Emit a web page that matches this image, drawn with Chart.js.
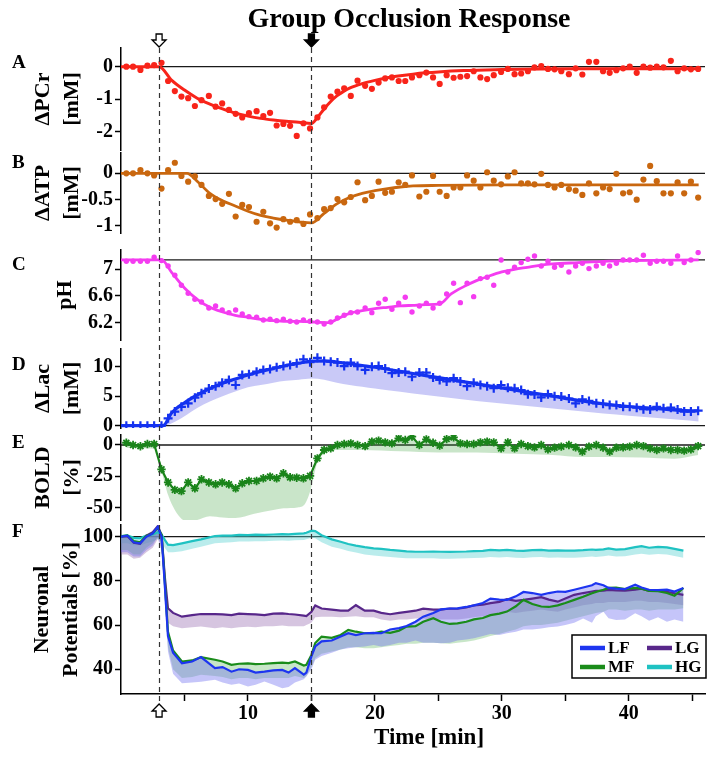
<!DOCTYPE html>
<html>
<head>
<meta charset="utf-8">
<script src="https://cdn.jsdelivr.net/npm/chart.js@4/dist/chart.umd.min.js"></script>
<style>
  body { margin: 0; background: #fff; }
  #wrap { position: relative; width: 714px; height: 759px; }
  #wrap canvas { position: absolute; left: 0; top: 0; }
</style>
</head>
<body>
<div id="wrap">
  <canvas id="pA" width="714" height="759"></canvas>
  <canvas id="pB" width="714" height="759"></canvas>
  <canvas id="pC" width="714" height="759"></canvas>
  <canvas id="pD" width="714" height="759"></canvas>
  <canvas id="pE" width="714" height="759"></canvas>
  <canvas id="pF" width="714" height="759"></canvas>
</div>
<script>
// sample times (min) of the spectroscopy / BOLD points
const ptT = [
  0.42, 0.95, 1.53, 2.08, 2.61, 3.19, 3.71, 4.24, 4.76, 5.29,
  5.82, 6.34, 6.92, 7.45, 7.97, 8.50, 9.03, 9.55, 10.08, 10.68,
  11.21, 11.74, 12.26, 12.79, 13.32, 13.84, 14.37, 14.89, 15.47, 16.0,
  16.52, 17.05, 17.58, 18.10, 18.63, 19.23, 19.76, 20.29, 20.81, 21.34,
  21.87, 22.39, 22.92, 23.5, 24.05, 24.58, 25.1, 25.65, 26.2, 26.73,
  27.26, 27.78, 28.31, 28.84, 29.36, 29.94, 30.47, 31.0, 31.52, 32.05,
  32.57, 33.1, 33.63, 34.15, 34.68, 35.28, 35.81, 36.34, 36.86, 37.44,
  37.97, 38.49, 39.02, 39.55, 40.07, 40.62, 41.15, 41.68, 42.2, 42.73,
  43.31, 43.84, 44.36, 44.89, 45.46
];

const pcrPts = [
  0, 0, -0.1, 0.03, 0.05, 0.12, -0.44, -0.75, -0.92, -0.97,
  -1.21, -1.03, -0.9, -1.23, -1.13, -1.33, -1.45, -1.56, -1.43, -1.37,
  -1.52, -1.42, -1.81, -1.76, -1.82, -2.13, -1.74, -1.9, -1.56, -1.25,
  -0.92, -0.77, -0.67, -0.9, -0.43, -0.59, -0.68, -0.49, -0.36, -0.33,
  -0.44, -0.44, -0.33, -0.26, -0.18, -0.33, -0.53, -0.26, -0.34, -0.31,
  -0.29, -0.14, -0.33, -0.38, -0.26, -0.16, -0.07, -0.23, -0.21, -0.14,
  -0.02, 0.02, -0.07, -0.08, -0.14, -0.23, -0.05, -0.24, 0.15, 0.15,
  -0.14, -0.19, -0.11, -0.05, 0, -0.19, 0, -0.03, 0, -0.02,
  0.18, -0.14, -0.05, -0.08, -0.07
];
const pcrFitT = [0, 3, 4, 5, 6, 7, 8, 9, 10, 11, 12, 13, 14, 15, 15.5, 16, 16.5, 17, 17.5, 18, 19, 20, 21, 22, 23, 24, 25, 27, 30, 33, 36, 40, 45.5];
const pcrFit = [0, 0, -0.42, -0.72, -0.97, -1.15, -1.3, -1.43, -1.52, -1.59, -1.64, -1.68, -1.71, -1.75, -1.55, -1.3, -1.08, -0.9, -0.77, -0.66, -0.52, -0.42, -0.34, -0.28, -0.23, -0.19, -0.16, -0.12, -0.09, -0.07, -0.06, -0.06, -0.06];

const atpPts = [
  0, 0, 0.06, 0, -0.04, -0.29, 0.06, 0.2, -0.05, -0.16,
  -0.06, -0.22, -0.43, -0.49, -0.58, -0.39, -0.82, -0.6, -0.64, -0.92,
  -0.73, -0.95, -1.03, -0.87, -0.92, -0.89, -0.96, -0.78, -0.85, -0.68,
  -0.66, -0.49, -0.55, -0.45, -0.17, -0.51, -0.43, -0.16, -0.37, -0.35,
  -0.17, -0.22, -0.04, -0.44, -0.35, -0.05, -0.35, -0.43, -0.27, -0.27,
  -0.04, -0.14, -0.27, 0.02, -0.14, -0.21, -0.06, 0.02, -0.19, -0.19,
  -0.21, -0.01, -0.22, -0.27, -0.22, -0.3, -0.33, -0.41, -0.19, -0.38,
  -0.27, -0.3, -0.01, -0.38, -0.36, -0.5, -0.12, 0.14, -0.15, -0.38,
  -0.38, -0.17, -0.38, -0.16, -0.46
];
const atpFitT = [0, 3, 5.2, 6, 7, 8, 9, 10, 11, 12, 13, 14, 15, 16, 17, 18, 19, 20, 21, 22, 23, 25, 30, 35, 40, 45.5];
const atpFit = [0, 0, 0, -0.15, -0.38, -0.52, -0.62, -0.72, -0.8, -0.85, -0.89, -0.92, -0.94, -0.76, -0.58, -0.46, -0.38, -0.33, -0.29, -0.26, -0.24, -0.23, -0.22, -0.22, -0.22, -0.22];

const phPts = [
  7.12, 7.12, 7.12, 7.12, 7.18, 7.13, 7.05, 6.91, 6.76, 6.64,
  6.55, 6.51, 6.42, 6.45, 6.39, 6.35, 6.39, 6.33, 6.29, 6.28,
  6.24, 6.25, 6.23, 6.25, 6.22, 6.21, 6.24, 6.22, 6.21, 6.18,
  6.21, 6.27, 6.31, 6.35, 6.36, 6.42, 6.35, 6.49, 6.55, 6.4,
  6.49, 6.58, 6.36, 6.45, 6.49, 6.42, 6.49, 6.63, 6.79, 6.5,
  6.79, 6.59, 6.86, 6.88, 6.76, 7.14, 6.96, 7.03, 7.1, 7.15,
  7.2, 7.05, 7.12, 7.03, 7.06, 6.96, 7.05, 7.09, 7.01, 7.05,
  7.09, 7.05, 7.09, 7.14, 7.14, 7.14, 7.21, 7.09, 7.12, 7.12,
  7.09, 7.2, 7.1, 7.14, 7.25
];
const phFitT = [0, 3.2, 4, 5, 6, 7, 8, 9, 10, 11, 12, 13, 14, 15, 16.4, 17, 17.5, 18, 19, 20, 21, 22, 23, 24, 25.1, 26, 27, 28, 29, 30, 31, 32, 33, 34, 36, 38, 40, 45.5];
const phFit = [7.14, 7.14, 6.95, 6.72, 6.55, 6.43, 6.36, 6.31, 6.28, 6.25, 6.23, 6.22, 6.22, 6.21, 6.2, 6.25, 6.3, 6.34, 6.38, 6.41, 6.43, 6.45, 6.46, 6.47, 6.48, 6.63, 6.74, 6.83, 6.9, 6.96, 7.0, 7.03, 7.06, 7.08, 7.1, 7.12, 7.13, 7.14];

const lacPts = [
  0, 0, 0, 0, 0, 0, 1.25, 2.4, 3.2, 3.8,
  4.75, 5.5, 6.3, 6.7, 7.3, 7.75, 6.9, 8.6, 8.7, 9.15,
  9.45, 9.6, 9.9, 10.1, 10.3, 10.6, 11.25, 10.75, 11.5, 10.95,
  10.85, 10.7, 10.1, 10.7, 10.1, 9.45, 10.0, 10.1, 9.7, 8.9,
  9.0, 9.15, 8.3, 9.0, 9.0, 8.15, 7.75, 7.5, 8.05, 7.5,
  6.7, 7.3, 6.9, 6.7, 6.35, 6.9, 6.45, 6.35, 6.05, 5.35,
  5.3, 4.8, 5.35, 5.0, 4.95, 4.6, 3.8, 4.45, 4.2, 3.8,
  3.7, 3.5, 3.5, 3.2, 3.2, 3.05, 2.8, 2.75, 3.2, 2.95,
  3.05, 2.75, 2.4, 2.4, 2.55
];
const lacFitT = [0, 3.3, 4, 5, 6, 7, 8, 9, 10, 11, 12, 13, 14, 15, 16, 17, 18, 19, 20, 22, 24, 26, 28, 30, 32, 34, 36, 38, 40, 42, 44, 45.5];
const lacFit = [0, 0, 2.2, 3.9, 5.2, 6.3, 7.2, 7.9, 8.6, 9.2, 9.7, 10.2, 10.6, 10.95, 11.0, 10.8, 10.5, 10.2, 9.9, 9.2, 8.5, 7.8, 7.1, 6.4, 5.7, 5.0, 4.3, 3.7, 3.25, 2.95, 2.6, 2.5];
const lacLow = [0, 0, 0.4, 1.6, 3.0, 4.1, 5.0, 5.8, 6.5, 6.9, 7.3, 7.6, 7.8, 8.0, 7.8, 7.3, 6.9, 6.6, 6.3, 5.75, 5.2, 4.7, 4.2, 3.75, 3.35, 2.9, 2.5, 2.05, 1.7, 1.35, 1.0, 0.7];

const boldPts = [
  1.8, 0, -1, 0.8, 0.8, -19.5, -30, -36, -37, -30,
  -34.7, -27.5, -30, -31.5, -30, -31.5, -34.7, -30.7, -28.8, -28.8,
  -26.7, -25.4, -26.7, -22.7, -25.9, -26.2, -26.7, -24.8, -10.7, -4,
  -2.7, 0, 0.8, 1.3, 0, -0.9, 2.7, 3.5, 2.1, 1.3,
  5.3, 4, 6.7, 0, 4.5, 1.8, -0.5, 4.8, 6.1, 1.3,
  0.8, 0.8, 2.1, 2.7, 2.1, -2.7, 2.1, -2.7, 0.8, -0.9,
  -1.9, 0, -3.5, -2.1, -1.3, 0, -1.9, -5.3, -1.3, 0,
  -2.1, -5.3, -2.1, -1.9, -1.3, 0, -0.9, -2.7, -4, -2.7,
  -4, -4, -4.5, -3.5, -0.9
];
const boldLowT = [0.42, 2.61, 3.19, 3.71, 4.24, 4.76, 5.29, 6.0, 7.0, 8.0, 9.0, 10.5, 12.0, 12.8, 13.9, 14.5, 14.89, 15.47, 16.0, 17.0, 19, 22, 25, 28, 31, 34, 36.3, 38.5, 41, 43.6, 45.46];
const boldLow = [-2.5, -3, -21, -40, -52, -59, -61.5, -60, -57, -58, -58.5, -55, -52, -50.7, -50, -47, -37.4, -14, -7, -4, -4, -5, -6, -6, -7, -8, -9.6, -9.6, -10, -11, -8];

// neuronal potentials
const fT = [
  0, 0.5, 1, 1.5, 2, 2.5, 2.9, 3.2, 3.45, 3.7,
  4.1, 4.8, 5.6, 6.3, 7.4, 8, 8.7, 9.3, 10, 10.6,
  11.3, 12, 12.7, 13.2, 13.7, 14.4, 14.6, 15.0, 15.3, 15.8,
  16.6, 17.3, 17.9, 18.5, 19.2, 19.9, 20.5, 21.2, 21.9, 22.5,
  23.2, 23.8, 24.6, 25.2, 25.9, 26.5, 27.2, 27.8, 28.5, 29.1,
  29.8, 30.4, 31.1, 31.7, 32.4, 33.1, 33.7, 34.4, 35.0, 35.7,
  36.4, 37.1, 37.4, 38.0, 38.4, 39.0, 39.7, 40.5, 41.0, 41.6,
  42.3, 43.0, 43.6, 44.3
];
const lfMean = [
  100, 100.5, 97.5, 97, 100, 101.5, 104.5, 100, 78, 55,
  47.5, 42.7, 43.5, 45.5, 40.5, 41, 38.9, 40, 39.7, 38.5,
  38.9, 39.5, 39.7, 38.5, 40.5, 37.6, 38.5, 45.8, 50.3, 52.6,
  53, 54.8, 56.3, 55.5, 56.3, 56.5, 56.3, 58, 58.6, 59.6,
  61.5, 63.8, 65.5, 67.1, 67.5, 67.6, 68.2, 68.9, 70, 72,
  71.5, 71.4, 73, 75, 74.5, 73.7, 74.5, 75.2, 75, 76,
  77, 78, 79, 78, 76.8, 76.5, 76.3, 78.3, 77, 76,
  75.8, 76, 75.2, 76.8
];
const mfMean = [
  100.2, 100.6, 98, 97.5, 100.3, 101.5, 104, 101, 80, 57,
  48.5, 43.5, 44, 45.5, 44.3, 43.5, 42, 42.5, 42.7, 42.3,
  42.5, 42.8, 43, 42.8, 43.5, 41.7, 42, 46.5, 51.9, 54.8,
  54.2, 55.5, 57.8, 57, 56.3, 56.3, 57, 56.5, 57.5, 59.3,
  59.5, 61.5, 63.1, 61.5, 60.5, 60.8, 61.5, 62.6, 63.2, 64.5,
  65.2, 66.1, 68.5, 71.4, 69.5, 68.4, 68.2, 68.9, 70, 71.4,
  72.8, 74.4, 75, 76, 76.8, 77, 76.3, 76.8, 76.5, 75.5,
  75.3, 74.5, 73.3, 76.8
];
const lgMean = [
  100, 100.3, 97.3, 96.8, 100.5, 102, 104.8, 100.5, 82, 67.6,
  65.5, 63.8, 64.5, 65, 65, 64.8, 64.5, 65.2, 65, 64.8,
  64.5, 65.2, 65.3, 65, 64.8, 64.3, 64.1, 66, 68.9, 67.5,
  67, 66.5, 66.5, 69, 66.5, 66.5, 65.5, 64.9, 65.5, 66,
  66.5, 67.4, 67, 67, 67.5, 67.4, 68, 68.9, 69.2, 69.9,
  70.5, 71.7, 71, 71.4, 72, 72.6, 71.5, 70.6, 72, 73.7,
  74.5, 75.2, 75.5, 75.6, 75.9, 75.7, 75.6, 76, 76.5, 75.5,
  75.6, 75, 74.4, 73.7
];
const hgMean = [
  100.3, 100.6, 99.5, 99.3, 100.5, 101, 102, 101, 98.6, 96.4,
  96.2, 97, 98, 98.8, 100.3, 100.5, 100.5, 100.8, 100.7, 100.9,
  100.8, 101, 101.2, 101.1, 101.3, 101.5, 101.8, 102.7, 102.5, 100.7,
  98.8, 97.7, 96.7, 96, 95.3, 94.7, 94.5, 94, 93.7, 93.4,
  93.2, 93.2, 93.3, 93.2, 93.1, 93.2, 93.3, 93.5, 93.6, 94,
  93.8, 94, 93.7, 93.6, 93.9, 94, 93.7, 93.8, 93.7, 93.7,
  93.9, 94.2, 94, 94.3, 94.7, 94.2, 94.4, 95.3, 95.7, 95,
  95.4, 95.2, 94.5, 93.7
];
const lfLow = [
  93, 93, 91, 91, 94, 96, 100, 95, 70, 48,
  38, 33.7, 34, 34.4, 35.2, 34, 33, 33.5, 32.2, 33,
  34.5, 33, 31.4, 32, 34, 35.5, 36.7, 40, 44.3, 46,
  47.5, 49, 49.5, 50, 50.3, 51, 50.3, 51, 52, 52,
  53, 52, 52, 51.8, 52, 53, 53.5, 54, 55, 56,
  55.5, 56.3, 57, 58, 58, 58.5, 59, 59.3, 60, 61,
  63, 61, 64, 66, 63.1, 62.3, 62.5, 65.3, 64, 62,
  63.5, 61.5, 62.5, 61.5
];
const mfLow = [
  94, 94, 92, 92, 95, 97, 100, 96, 72, 50,
  40, 36, 36.5, 37.5, 37, 36.5, 35.5, 36, 36, 35.5,
  36, 36, 36, 36, 37, 36, 37, 41, 45, 47,
  48, 49, 50, 50, 49.5, 49.5, 50, 50.5, 51, 51.5,
  51.5, 52, 52, 51.8, 51.5, 52, 52.5, 53, 54, 55,
  56, 57, 58, 59.5, 60, 60, 60.5, 61, 62, 63,
  64, 65, 65.5, 66, 67, 67, 66.5, 67, 67, 66.5,
  67, 67, 67, 67.6
];
const lgLow = [
  92, 92, 90, 90.5, 93, 95, 99, 94, 76, 61,
  59.5, 58.6, 59, 59.3, 58.6, 59, 58.6, 59, 59.2, 59,
  59.5, 59.5, 59.8, 59.5, 59.5, 59.5, 60, 61, 63.5, 63.8,
  63.8, 63.5, 63.8, 64, 63.5, 63.5, 62.5, 62, 62.5, 62.5,
  63, 63, 62.5, 62.5, 62.5, 62.5, 63, 63.5, 64, 64.5,
  65, 66, 65.5, 66, 66.5, 67, 66.5, 66, 67, 68,
  69, 69.5, 70, 70, 70.5, 70.5, 70.5, 71, 71, 70.5,
  70.5, 70, 69.5, 69
];
const hgLow = [
  97, 97, 96, 96, 97, 98, 99, 98, 95, 93,
  93, 93.4, 94.5, 95.5, 97, 97.3, 97.5, 97.8, 97.8, 98,
  98, 98.2, 98.3, 98.2, 98.4, 98.5, 98.8, 99.5, 99.3, 97.5,
  95.5, 94.5, 93.5, 92.8, 92, 91.5, 91.2, 90.8, 90.5, 90.3,
  90.2, 90.2, 90.2, 90, 90, 90.1, 90.2, 90.4, 90.5, 90.8,
  90.6, 90.8, 90.5, 90.4, 90.7, 90.8, 90.5, 90.6, 90.5, 90.5,
  90.7, 91, 90.8, 91.1, 91.5, 91, 91.2, 92, 92.3, 91.8,
  92.2, 92, 91.3, 90.5
];

const pcrTicks = [-2, -1, 0];
const atpTicks = [-1, -0.5, 0];
const phTicks = [6.2, 6.6, 7];
const lacTicks = [0, 5, 10];
const boldTicks = [-50, -25, 0];
const npTicks = [40, 60, 80, 100];
const xTicks = [5, 10, 15, 20, 25, 30, 35, 40, 45];
const eventTimes = [3, 15];
const panelLetters = ["A", "B", "C", "D", "E", "F"];

const FONT = "'Liberation Serif', 'Times New Roman', serif";
const tickFont = { family: FONT, size: 20, weight: "bold" };
const titleFont = { family: FONT, size: 22, weight: "bold", lineHeight: 1.3 };

const xy = (xs, ys) => ys.map((y, i) => ({ x: xs[i], y }));

const refLine = (v) => ({
  data: [{ x: 0, y: v }, { x: 46, y: v }],
  borderColor: "#1a1a1a", borderWidth: 1.3, pointRadius: 0, order: 30,
});

const fitLine = (xs, ys, color, w) => ({
  data: xy(xs, ys), borderColor: color, borderWidth: w, pointRadius: 0,
  cubicInterpolationMode: "monotone", order: 2,
});

const markers = (xs, ys, color, style, r, bw) => ({
  data: xy(xs, ys), showLine: false, pointStyle: style, pointRadius: r,
  pointBackgroundColor: color, pointBorderColor: color, pointBorderWidth: bw, order: 1,
});

const xAxisF = {
  type: "linear", min: 0, max: 46,
  afterBuildTicks: (s) => { s.ticks = xTicks.map((v) => ({ value: v })); },
  afterFit: (s) => { s.height = 65; },
  border: { color: "#000", width: 1.5 },
  grid: { drawOnChartArea: false, tickLength: 7, tickColor: "#000", tickWidth: 1.5 },
  ticks: { padding: 1, color: "#000", font: tickFont, autoSkip: false, maxRotation: 0,
    callback: (v) => (v % 10 === 0 ? String(v) : "") },
};

function makePanel(id, p, datasets, plugins) {
  const hasX = !!p.xAxis;
  return new Chart(document.getElementById(id), {
    type: "line",
    data: { datasets: datasets.concat([refLine(p.ref)]) },
    options: {
      responsive: false,
      animation: false,
      events: [],
      layout: { padding: { top: p.top, bottom: hasX ? 0 : 759 - p.bottom, left: 0, right: 9 } },
      plugins: { legend: { display: false }, tooltip: { enabled: false } },
      scales: {
        x: hasX ? xAxisF : { type: "linear", min: 0, max: 46, display: false },
        y: {
          min: p.min, max: p.max,
          afterBuildTicks: (s) => { s.ticks = p.ticks.map((v) => ({ value: v })); },
          afterFit: (s) => { s.width = 121; },
          border: { color: "#000", width: 1.5 },
          grid: { drawOnChartArea: false, tickLength: 6, tickColor: "#000", tickWidth: 1.5 },
          ticks: { padding: 2, color: "#000", font: tickFont, callback: (v) => String(v) },
          title: { display: true, text: p.title, color: "#000", font: titleFont, padding: { top: p.titlePad, bottom: 0 } },
        },
      },
    },
    plugins: plugins || [],
  });
}

function arrow(ctx, x, y, dir, fill) {
  ctx.beginPath();
  ctx.moveTo(x - 3, y);
  ctx.lineTo(x + 3, y);
  ctx.lineTo(x + 3, y + dir * 6);
  ctx.lineTo(x + 7, y + dir * 6);
  ctx.lineTo(x, y + dir * 13);
  ctx.lineTo(x - 7, y + dir * 6);
  ctx.lineTo(x - 3, y + dir * 6);
  ctx.closePath();
  ctx.fillStyle = fill;
  ctx.fill();
  ctx.strokeStyle = "#000";
  ctx.lineWidth = 1.3;
  ctx.stroke();
}

const decor = {
  id: "decor",
  afterDraw(chart) {
    const { ctx } = chart;
    const xs = chart.scales.x;
    ctx.save();
    ctx.setLineDash([5, 4]);
    ctx.strokeStyle = "#333";
    ctx.lineWidth = 1.2;
    eventTimes.forEach((t) => {
      const px = Math.round(xs.getPixelForValue(t)) + 0.5;
      ctx.beginPath();
      ctx.moveTo(px, 48);
      ctx.lineTo(px, 701);
      ctx.stroke();
    });
    ctx.setLineDash([]);
    eventTimes.forEach((t, i) => {
      const px = xs.getPixelForValue(t);
      const fill = i === 0 ? "#fff" : "#000";
      arrow(ctx, px, 34, 1, fill);
      arrow(ctx, px, 717, -1, fill);
    });

    ctx.fillStyle = "#000";
    ctx.textAlign = "center";
    ctx.textBaseline = "alphabetic";
    ctx.font = `bold 28px ${FONT}`;
    ctx.fillText("Group Occlusion Response", 409, 27);
    ctx.font = `bold 23px ${FONT}`;
    ctx.textBaseline = "middle";
    ctx.fillText("Time [min]", 429, 738);

    ctx.textAlign = "left";
    ctx.textBaseline = "alphabetic";
    ctx.font = `bold 19px ${FONT}`;
    const letterY = [68, 168, 270, 370, 448, 537];
    panelLetters.forEach((l, i) => ctx.fillText(l, 12, letterY[i]));

    // legend box
    const lines = chart.data.datasets.filter((d) => d.label);
    const lx = 572, ly = 635;
    ctx.fillStyle = "#fff";
    ctx.fillRect(lx, ly, 134, 43);
    ctx.strokeStyle = "#000";
    ctx.lineWidth = 1.5;
    ctx.strokeRect(lx, ly, 134, 43);
    ctx.font = `bold 17px ${FONT}`;
    ctx.textBaseline = "middle";
    lines.forEach((d, i) => {
      const x = lx + 8 + Math.floor(i / 2) * 67;
      const y = ly + 13 + (i % 2) * 19;
      ctx.strokeStyle = d.borderColor;
      ctx.lineWidth = 4.5;
      ctx.beginPath();
      ctx.moveTo(x, y);
      ctx.lineTo(x + 25, y);
      ctx.stroke();
      ctx.fillStyle = "#000";
      ctx.fillText(d.label, x + 28, y + 1);
    });
    ctx.restore();
  },
};

// A: PCr
makePanel("pA", { top: 48, bottom: 150, min: -2.563, max: 0.575, ticks: pcrTicks, ref: 0, title: ["ΔPCr", "[mM]"], titlePad: 29 }, [
  fitLine(pcrFitT, pcrFit, "#f8241a", 3),
  markers(ptT, pcrPts, "#f8241a", "circle", 3.1, 0),
]);

// B: ATP
makePanel("pB", { top: 153, bottom: 233, min: -1.133, max: 0.385, ticks: atpTicks, ref: 0, title: ["ΔATP", "[mM]"], titlePad: 29 }, [
  fitLine(atpFitT, atpFit, "#c9670f", 2.8),
  markers(ptT, atpPts, "#c9670f", "circle", 3.1, 0),
]);

// C: pH
makePanel("pC", { top: 250, bottom: 340, min: 5.94, max: 7.289, ticks: phTicks, ref: 7.14, title: "pH", titlePad: 51 }, [
  fitLine(phFitT, phFit, "#f43cf0", 2.8),
  markers(ptT, phPts, "#f43cf0", "circle", 2.7, 0),
]);

// D: lactate with lower SD band
makePanel("pD", { top: 349, bottom: 428, min: -0.39, max: 13.0, ticks: lacTicks, ref: 0, title: ["ΔLac", "[mM]"], titlePad: 29 }, [
  fitLine(lacFitT, lacFit, "#1432f0", 3.2),
  markers(ptT, lacPts, "#1432f0", "cross", 4.5, 2.2),
  { data: xy(lacFitT, lacLow), borderWidth: 0, pointRadius: 0, cubicInterpolationMode: "monotone",
    backgroundColor: "rgba(120,120,235,0.4)", fill: { target: 0 }, order: 10 },
]);

// E: BOLD with lower SD band
makePanel("pE", { top: 435, bottom: 520, min: -60.1, max: 8.0, ticks: boldTicks, ref: 0, title: ["BOLD", "[%]"], titlePad: 29 }, [
  { data: xy(ptT, boldPts), borderColor: "#1a841a", borderWidth: 2.2, pointStyle: "star", pointRadius: 4.2,
    pointBorderColor: "#1a841a", pointBorderWidth: 1.8, order: 1 },
  { data: xy(boldLowT, boldLow), borderWidth: 0, pointRadius: 0, cubicInterpolationMode: "monotone",
    backgroundColor: "rgba(60,160,60,0.28)", fill: { target: 0 }, order: 10 },
]);

// F: neuronal potentials
const fLine = (ys, color, label) => ({ label, data: xy(fT, ys), borderColor: color, borderWidth: 2.2, pointRadius: 0, order: 2 });
const fBand = (ys, color, target) => ({ data: xy(fT, ys), borderWidth: 0, pointRadius: 0, backgroundColor: color, fill: { target }, order: 10 });
makePanel("pF", { top: 525, bottom: 694, min: 28.8, max: 105.3, ticks: npTicks, ref: 100, title: ["Neuronal", "Potentials [%]"], titlePad: 28, xAxis: true }, [
  fLine(lfMean, "#1d35f0", "LF"),
  fLine(mfMean, "#1a8c1a", "MF"),
  fLine(lgMean, "#58278a", "LG"),
  fLine(hgMean, "#1fc2c2", "HG"),
  fBand(lfLow, "rgba(110,110,240,0.4)", 0),
  fBand(mfLow, "rgba(110,190,110,0.38)", 1),
  fBand(lgLow, "rgba(140,95,170,0.36)", 2),
  fBand(hgLow, "rgba(90,210,210,0.42)", 3),
], [decor]);
</script>
</body>
</html>
